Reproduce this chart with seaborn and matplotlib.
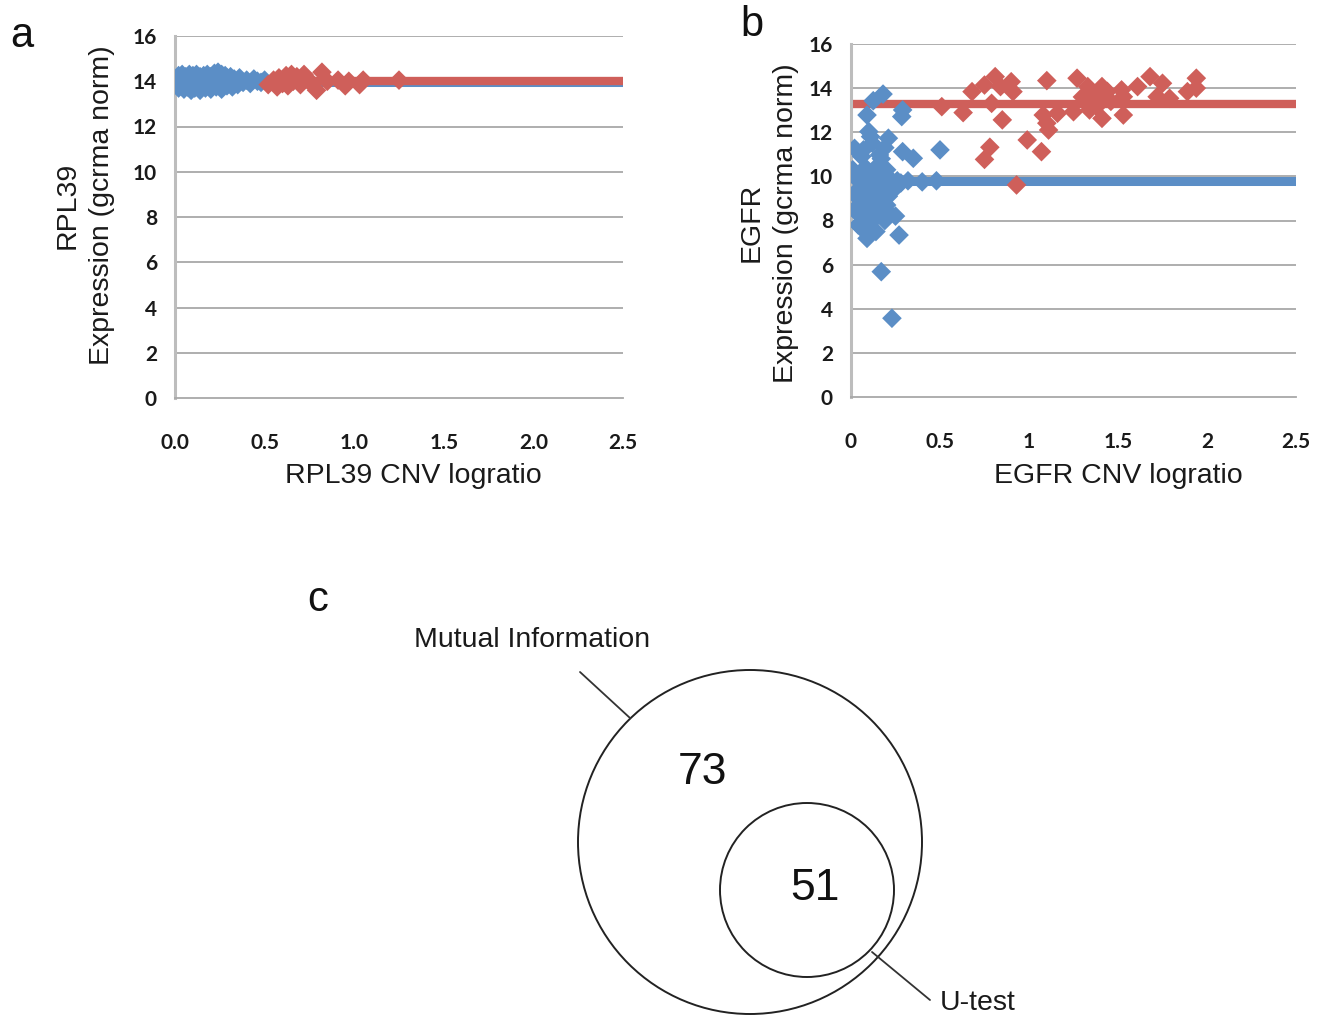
import numpy as np
import pandas as pd
import seaborn as sns
import matplotlib
matplotlib.use("Agg")
import matplotlib.pyplot as plt
from matplotlib.patches import Circle

sns.set_theme(style="white")
plt.rcParams['font.family'] = ['Liberation Sans', 'DejaVu Sans']

# ---------------- data ----------------
# Panel a: RPL39
rpl39_blue_x = [0.01, 0.02, 0.02, 0.03, 0.04, 0.05, 0.05, 0.06, 0.07, 0.08,
                0.08, 0.09, 0.10, 0.11, 0.11, 0.12, 0.13, 0.14, 0.14, 0.15,
                0.16, 0.17, 0.17, 0.18, 0.19, 0.20, 0.20, 0.21, 0.22, 0.23,
                0.23, 0.24, 0.25, 0.26, 0.26, 0.27, 0.28, 0.29, 0.29, 0.30,
                0.31, 0.32, 0.33, 0.34, 0.35, 0.36, 0.38, 0.40, 0.42, 0.44,
                0.46, 0.48, 0.50]
rpl39_blue_y = [14.00, 14.25, 13.70, 13.85, 14.30, 13.65, 14.10, 14.20, 13.75, 14.30,
                13.90, 13.60, 14.25, 14.05, 13.70, 14.30, 13.80, 14.20, 13.60, 14.00,
                14.25, 13.70, 14.10, 14.30, 13.85, 14.20, 13.65, 14.05, 14.35, 13.75,
                14.15, 14.40, 13.90, 14.30, 13.65, 14.10, 14.25, 13.80, 14.15, 13.95,
                14.20, 13.75, 14.10, 14.00, 13.85, 14.15, 13.95, 14.05, 13.90, 14.10,
                14.00, 13.95, 14.05]
rpl39_red_x = [0.52, 0.55, 0.57, 0.58, 0.60, 0.62, 0.63, 0.65, 0.66, 0.68,
               0.70, 0.72, 0.74, 0.76, 0.79, 0.82, 0.85, 0.91, 0.95, 0.97,
               1.03, 1.05, 1.25]
rpl39_red_y = [13.85, 14.05, 13.75, 14.15, 13.90, 14.25, 13.80, 14.30, 14.00, 14.20,
               13.85, 14.30, 14.05, 13.95, 13.60, 14.40, 14.00, 14.05, 13.80, 14.00,
               13.85, 14.05, 14.05]
rpl39_blue_mean = 13.98
rpl39_red_mean = 14.00

# Panel b: EGFR
egfr_blue_x = [0.18, 0.125, 0.09, 0.29, 0.285, 0.10, 0.11, 0.21, 0.02, 0.07,
               0.16, 0.29, 0.35, 0.50, 0.17, 0.12, 0.06, 0.19,
               0.01, 0.03, 0.04, 0.05, 0.06, 0.07, 0.08, 0.09, 0.10, 0.11,
               0.12, 0.13, 0.14, 0.15, 0.16, 0.17, 0.18, 0.19, 0.20, 0.21,
               0.22, 0.23, 0.02, 0.04, 0.08, 0.12, 0.16, 0.06, 0.10, 0.14,
               0.18, 0.24, 0.26, 0.28, 0.03, 0.09, 0.13, 0.20, 0.25,
               0.32, 0.40, 0.48,
               0.06, 0.09, 0.14, 0.27, 0.17, 0.23, 0.04, 0.11, 0.19]
egfr_blue_y = [13.73, 13.43, 12.78, 13.01, 12.71, 12.03, 11.80, 11.73, 11.27, 11.20,
               10.97, 11.12, 10.82, 11.20, 10.80, 11.50, 10.90, 11.30,
               10.30, 9.90, 9.40, 10.10, 8.90, 9.60, 10.40, 9.20, 8.60, 9.90,
               10.20, 9.00, 9.50, 8.40, 10.00, 9.30, 8.80, 9.70, 10.30, 9.10,
               8.30, 9.80, 8.50, 8.30, 8.20, 8.50, 9.20, 9.80, 9.50, 10.40,
               10.10, 9.40, 9.80, 9.70, 9.10, 10.00, 9.80, 8.70, 8.20,
               9.80, 9.75, 9.80,
               7.65, 7.19, 7.50, 7.34, 5.68, 3.57, 7.80, 7.90, 8.00]
egfr_red_x = [0.51, 0.63, 0.68, 0.75, 0.81, 0.84, 0.79, 0.85, 0.90, 0.91,
              0.78, 0.75, 0.93, 0.99, 1.07, 1.10, 1.08, 1.10, 1.11, 1.16,
              1.25, 1.27, 1.33, 1.35, 1.32, 1.36, 1.41, 1.42, 1.38, 1.41,
              1.34, 1.30, 1.44, 1.46, 1.52, 1.53, 1.53, 1.61, 1.68, 1.75,
              1.72, 1.79, 1.89, 1.94, 1.94]
egfr_red_y = [13.16, 12.89, 13.84, 14.14, 14.52, 14.07, 13.31, 12.56, 14.29, 13.84,
              11.32, 10.77, 9.61, 11.65, 11.12, 14.34, 12.78, 12.41, 12.10, 12.86,
              12.93, 14.45, 14.07, 13.77, 13.46, 13.31, 14.07, 13.69, 13.16, 12.63,
              13.01, 13.60, 13.85, 13.40, 13.92, 13.61, 12.78, 14.07, 14.52, 14.22,
              13.61, 13.54, 13.84, 14.45, 14.00]
egfr_blue_mean = 9.78
egfr_red_mean = 13.28

# Venn counts
venn_labels = ["Mutual Information", "U-test"]
venn_counts = [73, 51]

BLUE = '#5B8EC6'
RED = '#CF5F5A'
GRID = '#A8A8A8'
AXC = '#BDBDBD'
TXT = '#1a1a1a'

W, H = 1325, 1019
fig = plt.figure(figsize=(W / 100, H / 100), dpi=100)


def fx(px):
    return px / W


def fy(py):
    return 1 - py / H


def rect(l, t, r, b):
    return [fx(l), fy(b), fx(r) - fx(l), fy(t) - fy(b)]


def scatter_panel(ax, bx, by, rx, ry, bmean, rmean, xt_labels):
    ax.hlines([bmean], 0, 2.5, color=BLUE, lw=6.5, zorder=2)
    ax.hlines([rmean], 0, 2.5, color=RED, lw=6.0, zorder=2.5)
    dfb = pd.DataFrame({'x': bx, 'y': by})
    dfr = pd.DataFrame({'x': rx, 'y': ry})
    sns.scatterplot(data=dfb, x='x', y='y', ax=ax, marker='D', s=100,
                    color=BLUE, edgecolor='none', linewidth=0, zorder=3)
    sns.scatterplot(data=dfr, x='x', y='y', ax=ax, marker='D', s=100,
                    color=RED, edgecolor='none', linewidth=0, zorder=4)
    ax.set_xlim(0, 2.5)
    ax.set_ylim(0, 16)
    ax.set_yticks(range(0, 17, 2))
    ax.set_xticks([0, 0.5, 1.0, 1.5, 2.0, 2.5])
    ax.set_xticklabels(xt_labels)
    ax.set_xlabel('')
    ax.set_ylabel('')
    for v in range(2, 17, 2):
        ax.axhline(v, color=GRID, lw=1.3, zorder=1)
    for s in ['top', 'right']:
        ax.spines[s].set_visible(False)
    ax.spines['left'].set_color(AXC)
    ax.spines['left'].set_linewidth(2.2)
    ax.spines['bottom'].set_color(GRID)
    ax.spines['bottom'].set_linewidth(1.3)
    ax.tick_params(axis='both', direction='out', length=4, width=1.2,
                   color=GRID, labelcolor=TXT)
    ax.tick_params(axis='y', pad=9)
    ax.tick_params(axis='x', pad=21)
    for lab in ax.get_xticklabels() + ax.get_yticklabels():
        lab.set_fontfamily(['Lato', 'DejaVu Sans'])
        lab.set_fontweight('bold')
        lab.set_fontsize(15)
    ax.set_facecolor('none')


# Panel a
ax_a = fig.add_axes(rect(175, 36, 623, 398))
scatter_panel(ax_a, rpl39_blue_x, rpl39_blue_y, rpl39_red_x, rpl39_red_y,
              rpl39_blue_mean, rpl39_red_mean,
              ['0.0', '0.5', '1.0', '1.5', '2.0', '2.5'])
# Panel b
ax_b = fig.add_axes(rect(851, 44, 1296, 397))
scatter_panel(ax_b, egfr_blue_x, egfr_blue_y, egfr_red_x, egfr_red_y,
              egfr_blue_mean, egfr_red_mean,
              ['0', '0.5', '1', '1.5', '2', '2.5'])

LAB = 20.5
fig.text(fx(413), fy(476), 'RPL39 CNV logratio', fontsize=LAB, ha='center', va='center', color=TXT)
fig.text(fx(1118), fy(476), 'EGFR CNV logratio', fontsize=LAB, ha='center', va='center', color=TXT)
fig.text(fx(68), fy(205), 'RPL39', fontsize=LAB, rotation=90, ha='center', va='center', color=TXT)
fig.text(fx(102), fy(205), 'Expression (gcrma norm)', fontsize=LAB, rotation=90, ha='center', va='center', color=TXT)
fig.text(fx(752), fy(222), 'EGFR', fontsize=LAB, rotation=90, ha='center', va='center', color=TXT)
fig.text(fx(786), fy(223), 'Expression (gcrma norm)', fontsize=LAB, rotation=90, ha='center', va='center', color=TXT)

fig.text(fx(22), fy(36), 'a', fontsize=30, ha='center', va='center', color='#111111')
fig.text(fx(752), fy(25), 'b', fontsize=30, ha='center', va='center', color='#111111')
fig.text(fx(318), fy(600), 'c', fontsize=30, ha='center', va='center', color='#111111')

# Panel c: Venn diagram in pixel coordinates
ax_c = fig.add_axes([0, 0, 1, 1], zorder=-1)
ax_c.set_xlim(0, W)
ax_c.set_ylim(H, 0)
ax_c.axis('off')
ax_c.add_patch(Circle((750, 842), 172, fill=False, ec='#222222', lw=1.4))
ax_c.add_patch(Circle((807, 890), 87, fill=False, ec='#222222', lw=1.4))
ax_c.plot([580, 630], [672, 718], color='#333333', lw=1.3)
ax_c.plot([872, 930], [952, 1000], color='#333333', lw=1.3)
ax_c.text(532, 640, venn_labels[0], fontsize=20.5, ha='center', va='center', color=TXT)
ax_c.text(978, 1003, venn_labels[1], fontsize=20.5, ha='center', va='center', color=TXT)
ax_c.text(702, 772, str(venn_counts[0]), fontsize=32, ha='center', va='center', color='#111111')
ax_c.text(815, 888, str(venn_counts[1]), fontsize=32, ha='center', va='center', color='#111111')

fig.savefig('out.png', dpi=100)
